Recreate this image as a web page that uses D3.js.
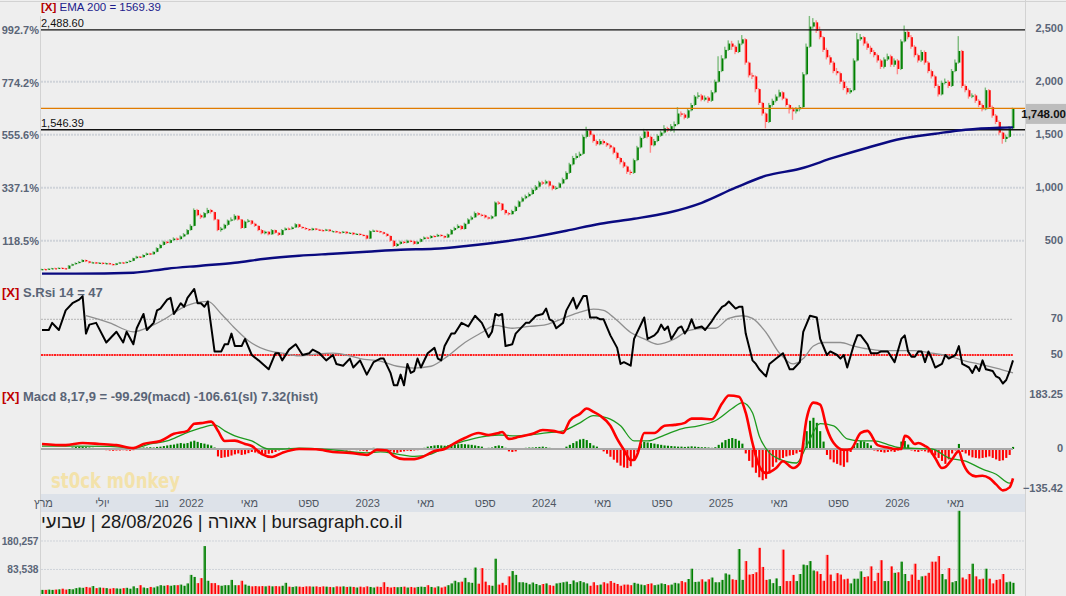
<!DOCTYPE html>
<html>
<head>
<meta charset="utf-8">
<script src="https://cdn.jsdelivr.net/npm/d3@7"></script>
<style>
html, body { margin: 0; padding: 0; background: #eeeeee; }
svg { display: block; font-family: "Liberation Sans", Arial, sans-serif; }
</style>
</head>
<body>
<div class="weeklyChart"></div>
<script>
// weekly bars, first one is the week of 26/02/2021, last one 28/08/2026
const firstWeek = '2021-02-26';

const opens = [
  226,232,228,236,240,238,244,240,236,265,
  278,290,300,318,305,292,296,286,292,282,
  288,280,272,286,295,290,300,310,335,350,
  345,365,380,372,395,430,460,490,480,505,
  520,515,540,560,600,640,790,740,720,760,
  790,770,700,600,615,650,690,700,735,700,
  620,680,690,660,640,600,570,585,560,600,
  575,555,600,615,610,625,655,630,620,610,
  600,615,605,600,595,605,590,590,580,575,
  585,570,575,560,565,555,550,520,590,595,
  590,580,565,545,500,450,470,490,480,500,
  495,470,490,515,530,525,545,540,555,545,
  530,560,600,620,640,610,660,700,720,760,
  745,740,720,710,730,860,850,790,760,750,
  780,820,870,900,920,940,980,1010,1050,1040,
  1060,1020,990,1000,1040,1080,1140,1220,1280,1300,
  1320,1480,1540,1500,1440,1410,1440,1420,1400,1380,
  1330,1280,1240,1200,1150,1140,1260,1380,1470,1530,
  1480,1400,1440,1490,1520,1560,1540,1580,1600,1700,
  1690,1660,1730,1780,1860,1870,1830,1850,1820,1900,
  2000,2100,2220,2300,2360,2330,2280,2360,2400,2180,
  2060,2050,1930,1800,1700,1620,1780,1820,1860,1900,
  1840,1780,1740,1720,1740,1760,2070,2330,2520,2560,
  2480,2420,2300,2230,2180,2100,2080,2000,1940,1900,
  1920,2200,2400,2420,2360,2320,2280,2250,2200,2140,
  2210,2240,2160,2200,2120,2380,2470,2420,2330,2250,
  2200,2280,2180,2100,2050,1960,1880,1990,2000,1960,
  2100,2180,2290,1960,1920,1860,1870,1820,1780,1740,
  1920,1760,1680,1620,1520,1460,1480,1560
];
const highs = [
  236,238,240,244,246,248,248,244,270,284,
  296,308,325,322,310,302,300,298,296,294,
  292,284,290,300,300,305,316,340,358,356,
  372,388,386,400,438,470,500,498,515,532,
  530,550,572,610,655,805,800,755,770,810,
  800,775,705,630,660,700,720,750,740,705,
  690,705,695,670,645,610,595,590,610,605,
  580,610,625,625,635,665,660,635,628,615,
  622,620,612,608,612,610,598,595,588,592,
  590,582,580,572,570,562,555,598,605,602,
  595,585,570,550,505,480,500,498,510,508,
  500,498,522,540,538,552,552,565,560,550,
  568,610,632,655,648,670,712,735,775,770,
  755,748,728,740,870,875,855,795,770,792,
  830,880,915,935,955,995,1025,1065,1065,1075,
  1068,1028,1015,1050,1095,1155,1235,1300,1325,1340,
  1500,1575,1555,1510,1455,1460,1455,1430,1415,1390,
  1340,1290,1255,1210,1170,1275,1395,1485,1555,1545,
  1490,1460,1505,1540,1590,1575,1600,1625,1760,1720,
  1705,1750,1800,1875,1900,1885,1870,1865,1920,2020,
  2240,2250,2330,2390,2385,2345,2390,2440,2410,2190,
  2085,2060,1940,1810,1710,1800,1840,1880,1925,1910,
  1850,1790,1760,1760,1780,2090,2360,2620,2600,2580,
  2520,2430,2320,2250,2195,2130,2095,2015,1960,1940,
  2220,2460,2450,2430,2380,2340,2300,2265,2215,2230,
  2265,2255,2220,2215,2400,2530,2490,2440,2345,2265,
  2300,2295,2195,2115,2065,1975,2010,2030,2015,2120,
  2210,2430,2300,1975,1935,1890,1885,1835,1795,1945,
  1930,1775,1695,1635,1530,1500,1580,1755
];
const lows = [
  222,224,226,232,234,235,236,230,234,260,
  274,285,296,298,286,286,280,282,276,278,
  274,266,268,282,284,286,296,306,330,338,
  340,360,364,368,390,425,455,470,475,498,
  505,510,532,555,595,635,730,705,712,750,
  755,690,590,585,605,640,680,690,690,610,
  615,670,650,630,590,560,560,550,555,565,
  545,550,595,600,605,620,620,612,602,592,
  595,598,592,588,590,584,582,572,568,570,
  562,565,552,555,548,542,512,515,582,582,
  572,558,538,490,440,442,462,470,475,485,
  462,465,485,510,518,520,532,535,538,522,
  525,555,592,612,600,605,655,692,715,735,
  728,710,700,702,725,838,780,745,738,745,
  772,815,862,890,910,932,970,1000,1025,1030,
  1008,975,980,995,1032,1072,1130,1210,1265,1285,
  1310,1465,1480,1425,1395,1400,1405,1385,1365,1315,
  1265,1220,1185,1130,1120,1130,1250,1370,1460,1465,
  1330,1390,1430,1480,1510,1525,1530,1520,1590,1670,
  1645,1650,1720,1770,1840,1815,1815,1800,1810,1890,
  1990,2090,2210,2290,2300,2260,2270,2345,2160,2040,
  2025,1900,1780,1680,1560,1610,1765,1805,1850,1825,
  1765,1700,1640,1700,1720,1750,2060,2320,2500,2460,
  2400,2280,2210,2160,2080,2060,1980,1920,1880,1885,
  1910,2190,2385,2340,2300,2260,2230,2180,2120,2125,
  2195,2140,2140,2070,2110,2370,2400,2310,2230,2180,
  2185,2160,2080,2030,1940,1860,1870,1975,1940,1950,
  2090,2170,1940,1900,1840,1845,1800,1760,1720,1730,
  1745,1660,1600,1500,1415,1430,1470,1550
];
const closes = [
  232,228,236,240,238,244,240,236,265,278,
  290,300,318,305,292,296,286,292,282,288,
  280,272,286,295,290,300,310,335,350,345,
  365,380,372,395,430,460,490,480,505,520,
  515,540,560,600,640,790,740,720,760,790,
  770,700,600,615,650,690,700,735,700,620,
  680,690,660,640,600,570,585,560,600,575,
  555,600,615,610,625,655,630,620,610,600,
  615,605,600,595,605,590,590,580,575,585,
  570,575,560,565,555,550,520,590,595,590,
  580,565,545,500,450,470,490,480,500,495,
  470,490,515,530,525,545,540,555,545,530,
  560,600,620,640,610,660,700,720,760,745,
  740,720,710,730,860,850,790,760,750,780,
  820,870,900,920,940,980,1010,1050,1040,1060,
  1020,990,1000,1040,1080,1140,1220,1280,1300,1320,
  1480,1540,1500,1440,1410,1440,1420,1400,1380,1330,
  1280,1240,1200,1150,1140,1260,1380,1470,1530,1480,
  1400,1440,1490,1520,1560,1540,1580,1600,1700,1690,
  1660,1730,1780,1860,1870,1830,1850,1820,1900,2000,
  2100,2220,2300,2360,2330,2280,2360,2400,2180,2060,
  2050,1930,1800,1700,1620,1780,1820,1860,1900,1840,
  1780,1740,1720,1740,1760,2070,2330,2520,2560,2480,
  2420,2300,2230,2180,2100,2080,2000,1940,1900,1920,
  2200,2400,2420,2360,2320,2280,2250,2200,2140,2210,
  2240,2160,2200,2120,2380,2470,2420,2330,2250,2200,
  2280,2180,2100,2050,1960,1880,1990,2000,1960,2100,
  2180,2290,1960,1920,1860,1870,1820,1780,1740,1920,
  1760,1680,1620,1520,1460,1480,1560,1748
];
// volume, thousands of units per week
const volumes = [
  14,14,15,14,15,16,18,15,17,16,
  20,22,21,24,22,27,20,22,21,20,
  18,20,19,18,20,21,18,26,20,30,
  22,20,24,22,26,30,28,30,28,30,
  30,32,28,36,65,58,37,54,163,45,
  37,37,30,28,30,30,48,30,30,45,
  32,28,26,27,26,27,26,28,26,27,
  26,28,38,25,24,26,25,24,26,26,
  25,26,24,26,25,24,23,26,25,26,
  24,25,24,22,25,23,26,24,22,25,
  24,40,24,22,24,23,24,25,22,24,
  22,24,25,24,30,24,22,26,22,25,
  30,36,45,40,42,55,40,38,90,35,
  88,42,30,28,120,32,38,30,60,78,
  65,40,40,38,33,39,34,30,34,36,
  30,28,36,38,40,42,34,46,40,44,
  40,36,28,40,30,32,40,36,44,38,
  34,28,32,32,30,38,35,32,30,34,
  36,30,32,36,34,30,32,38,36,44,
  40,51,86,41,42,50,42,50,56,40,
  40,48,70,66,50,48,153,48,112,66,
  68,74,157,92,48,50,37,53,27,151,
  44,44,65,44,68,100,98,112,80,77,
  68,45,133,66,44,71,66,50,52,36,
  52,52,77,58,60,94,44,72,115,44,
  44,94,72,74,110,68,44,66,103,48,
  60,62,72,110,110,129,68,50,88,40,
  44,283,56,50,68,103,60,50,52,86,
  52,36,48,50,68,40,42,38
];
// EMA 200, [week index, value]
const ema200 = [
  [0,189],[10,189],[27,198],[37,236],[47,264],[57,292],[66,330],[76,358],[86,377],[96,396],
  [106,415],[116,424],[126,453],[136,490],[146,538],[155,594],[165,660],[175,707],[185,764],
  [195,858],[205,1000],[214,1113],[224,1179],[234,1283],[244,1377],[254,1462],[264,1509],
  [273,1547],[283,1566],[287,1569]
];
// S.Rsi 14 and its average
const rsi = [
  [0,64],[2,64],[3,68],[4,66],[5,64],[7,75],[9,79],[11,81],[12,83],[13,62],[14,67],[16,68],
  [19,57],[22,63],[24,57],[25,63],[27,56],[28,65],[30,73],[31,64],[33,68],[34,75],[35,76],
  [37,81],[38,82],[39,73],[41,79],[42,77],[43,82],[45,87],[46,79],[47,79],[48,77],[49,80],
  [51,52],[53,52],[54,56],[55,56],[56,62],[57,55],[59,55],[60,59],[62,50],[64,47],[67,42],
  [69,51],[70,51],[71,47],[73,53],[75,56],[77,50],[79,51],[80,53],[82,51],[84,47],[86,50],
  [87,45],[89,44],[91,48],[92,43],[94,47],[96,39],[98,46],[100,48],[101,48],[103,40],[104,33],
  [105,33],[106,39],[107,33],[108,45],[109,40],[110,41],[111,48],[112,43],[114,51],[116,54],
  [117,48],[118,47],[119,55],[121,62],[122,62],[124,68],[126,66],[128,72],[130,68],[132,60],
  [133,63],[134,73],[135,72],[136,73],[137,55],[139,56],[140,62],[143,68],[144,68],[146,72],
  [148,73],[149,76],[150,70],[151,69],[152,65],[154,68],[155,75],[157,82],[158,76],[160,83],
  [161,83],[162,71],[164,71],[165,70],[166,70],[168,61],[170,54],[171,45],[172,46],[174,44],
  [175,59],[178,71],[179,59],[181,61],[182,63],[183,67],[184,64],[185,66],[186,59],[188,65],
  [189,66],[190,62],[191,65],[192,70],[193,65],[195,66],[196,64],[198,69],[199,72],[201,77],
  [202,78],[203,80],[205,76],[206,77],[207,77],[208,62],[210,47],[211,45],[212,42],[214,38],
  [215,45],[217,48],[219,51],[221,42],[222,42],[224,46],[225,63],[227,72],[229,71],[230,59],
  [232,50],[233,52],[235,50],[236,48],[237,50],[238,43],[240,56],[241,61],[242,61],[244,56],
  [245,51],[247,51],[248,52],[249,52],[250,52],[252,46],[254,59],[255,61],[256,52],[257,49],
  [258,49],[259,52],[260,52],[261,46],[262,52],[263,48],[264,43],[266,45],[267,50],[268,48],
  [270,50],[271,55],[272,45],[273,44],[274,43],[275,40],[276,44],[277,41],[278,47],[279,42],
  [281,41],[282,38],[283,37],[284,34],[285,36],[286,41],[287,47]
];
const rsiAvg = [
  [13,72],[20,68],[27,63],[32,66],[37,71],[41,76],[45,79],[49,80],[53,73],[57,65],[61,58],
  [66,53],[71,51],[76,49.5],[81,50.5],[86,51],[91,49.5],[94,48],[100,46.6],[105,43.7],
  [110,42.7],[115,43.7],[120,49.5],[125,57],[130,62.6],[134,66.6],[139,65],[144,66],[149,67],
  [154,70.5],[159,74],[163,75.7],[166,75],[169,71],[174,62.6],[178,59],[182,56],[187,59],
  [191,63.7],[196,65],[199,65],[203,70.5],[207,72],[210,70.5],[214,62.6],[218,51],[222,45],
  [225,48],[228,55],[231,57],[236,57],[240,55],[244,53.4],[248,52.5],[253,52.5],[258,52.5],
  [263,51],[268,49.4],[273,46.6],[278,44.5],[282,42.6],[287,40]
];
// Macd 8,17,9
const macdLine = [
  [0,17],[7,13],[12,20],[17,17],[22,13],[27,3],[30,17],[35,27],[39,51],[43,61],[45,85],[47,87],
  [50,92],[52,61],[54,27],[57,28],[60,17],[62,10],[65,-17],[68,-27],[71,-13],[76,0],[81,-1],
  [86,-10],[91,-13],[96,-20],[99,-3],[102,-5],[104,-24],[107,-34],[110,-34],[113,-24],[116,-7],
  [119,0],[122,20],[125,37],[129,54],[132,47],[135,54],[136,57],[138,34],[141,41],[145,51],
  [148,64],[151,61],[154,54],[156,95],[159,118],[161,136],[163,125],[165,112],[168,78],[170,34],
  [172,-3],[174,-37],[175,-37],[176,-17],[178,54],[181,54],[184,78],[187,81],[190,88],[192,102],
  [195,102],[198,100],[201,153],[203,180],[206,176],[208,122],[210,20],[212,-58],[214,-81],
  [217,-64],[219,-41],[222,-64],[224,-47],[226,102],[228,156],[230,149],[232,68],[234,20],
  [237,-3],[239,-1],[242,54],[244,61],[247,13],[250,5],[252,0],[254,0],[255,44],[256,41],
  [258,17],[259,20],[261,10],[262,3],[264,-30],[266,-64],[267,-61],[269,-34],[271,-7],[272,-41],
  [274,-81],[276,-92],[278,-90],[280,-98],[282,-119],[284,-139],[286,-129],[287,-99]
];
const signalLine = [
  [0,10],[10,10],[20,9],[27,3],[32,17],[37,27],[42,51],[47,71],[51,81],[54,61],[57,44],[62,27],
  [67,0],[71,0],[76,3],[86,-3],[96,-13],[100,-10],[105,-17],[110,-25],[115,-17],[120,10],
  [125,27],[130,41],[135,47],[140,44],[144,47],[149,54],[154,61],[159,88],[163,112],[167,105],
  [171,78],[175,27],[179,27],[184,47],[189,68],[194,78],[199,95],[204,136],[207,156],[210,122],
  [212,44],[215,-13],[218,-34],[223,-47],[226,10],[230,85],[234,78],[238,34],[242,27],[246,27],
  [250,15],[253,5],[258,2],[263,0],[268,-30],[273,-41],[278,-68],[282,-85],[286,-115],[287,-107]
];
const macdHist = [
  -3,-3,-2,-3,-3,-2,-2,-3,3,5,
  7,8,8,6,5,4,3,2,-2,-4,
  -5,-6,-5,-5,-4,-5,-6,-4,2,4,
  5,5,6,5,7,8,10,12,14,15,
  18,20,18,20,25,28,24,20,18,15,
  12,5,-25,-30,-28,-26,-22,-18,-15,-20,
  -18,-14,-10,-12,-15,-20,-18,-16,-14,-10,
  -5,2,3,4,3,2,1,0,1,-1,
  1,0,-1,-2,-1,-2,-3,-4,-3,-4,
  -5,-4,-3,-4,-5,-6,-8,3,4,3,
  2,-2,-4,-8,-12,-13,-10,-8,-6,-7,
  -5,-4,-3,4,8,10,12,13,12,11,
  12,14,15,16,17,16,15,14,12,10,
  8,3,4,5,10,12,10,4,-8,-10,
  -8,-3,3,4,5,5,6,7,8,6,
  4,2,-2,-3,-2,8,14,20,26,32,
  34,30,20,12,8,3,-8,-16,-26,-36,
  -46,-56,-62,-64,-58,-40,-10,18,24,22,
  20,18,16,14,12,11,10,9,8,8,
  7,8,9,8,7,6,6,5,4,6,
  14,22,30,34,37,34,28,18,-15,-40,
  -62,-80,-95,-105,-100,-82,-60,-45,-38,-30,
  -25,-22,-20,-15,-10,20,60,95,105,88,
  60,25,-20,-35,-45,-50,-55,-60,-45,-10,
  10,20,27,25,20,12,-5,-8,-10,-12,
  -10,-8,-10,-5,25,27,15,-5,-8,-10,
  -6,-8,-12,-18,-22,-30,-40,-50,-35,-15,
  -5,17,-10,-15,-22,-28,-30,-32,-30,-28,
  -25,-30,-35,-40,-38,-30,-20,7
];

const priceTicks = [500, 1000, 1500, 2000, 2500];
const percentTicks = [992.7, 774.2, 555.6, 337.1, 118.5];
const levelLines = [2488.60, 1546.39];
const lastPrice = 1748.00;
const rsiTicks = [70, 50];
const macdTicks = [183.25, 0, -135.42];
const volumeTicks = [180.257, 83.538];
const volumeTickLabels = ['180,257', '83,538'];
const xTickDates = ['2021-03-01','2021-07-01','2021-11-01','2022-01-01','2022-05-01','2022-09-01',
  '2023-01-01','2023-05-01','2023-09-01','2024-01-01','2024-05-01','2024-09-01','2025-01-01',
  '2025-05-01','2025-09-01','2026-01-01','2026-05-01'];
const xTickLabels = ['מרץ','יולי','נוב','2022','מאי','ספט','2023','מאי','ספט','2024','מאי','ספט',
  '2025','מאי','ספט','2026','מאי'];

function weeklyChart() {
    const width = 1066, height = 596;
    const left = 40, right = 1025;
    const axisColor = '#5a6577';
    const green = '#008000', red = '#ff0000';
    const paleGreen = '#7dbb7d', paleRed = '#ff8c8c';

    const n = Math.min(opens.length, highs.length, lows.length, closes.length);
    const parse = d3.timeParse('%Y-%m-%d');
    const start = parse(firstWeek);
    const weeks = d3.range(n).map(i => d3.timeDay.offset(start, i * 7));
    const up = i => closes[i] >= opens[i];

    const svg = d3.select('.weeklyChart')
        .append('svg')
        .attr('width', width)
        .attr('height', height);

    svg.append('rect').attr('width', width).attr('height', height).attr('fill', '#eeeeee');

    // scales
    const x = d3.scaleTime()
        .domain([weeks[0], weeks[n - 1]])
        .range([42, 1013]);
    const xi = i => x(weeks[Math.min(i, n - 1)]);

    const yPrice = d3.scaleLinear().domain([500, 2500]).range([240.7, 28.7]);
    const yRsi = d3.scaleLinear().domain([50, 70]).range([355, 319.3]);
    const yMacd = d3.scaleLinear().domain([0, 183.25]).range([449, 394.5]);
    const yVol = d3.scaleLinear().domain([0, 180.257]).range([594, 541]);

    const defs = svg.append('defs');
    defs.append('clipPath').attr('id', 'priceClip')
        .append('rect').attr('x', left).attr('y', 12).attr('width', right - left).attr('height', 268);

    // frame
    const frame = svg.append('g').attr('stroke', '#d2d2d2').attr('stroke-width', 1);
    frame.append('line').attr('x1', 0).attr('x2', width).attr('y1', 1.5).attr('y2', 1.5);
    frame.append('line').attr('x1', left + 0.5).attr('x2', left + 0.5).attr('y1', 16).attr('y2', height);
    frame.append('line').attr('x1', right + 0.5).attr('x2', right + 0.5).attr('y1', 0).attr('y2', height);

    function dottedLine(g, y, x2, color, w, dash) {
        g.append('line')
            .attr('x1', left + 1).attr('x2', x2)
            .attr('y1', y).attr('y2', y)
            .attr('stroke', color)
            .attr('stroke-width', w)
            .attr('stroke-dasharray', dash);
    }

    // ---- price panel
    const grid = svg.append('g');
    priceTicks.slice(0, 4).forEach(p => dottedLine(grid, yPrice(p), right, '#cfd3d9', 2, '2,1'));

    const basePrice = levelLines[0] / (1 + percentTicks[0] / 100);

    svg.append('g')
        .selectAll('text')
        .data(percentTicks)
        .join('text')
        .attr('x', 39)
        .attr('y', d => yPrice(basePrice * (1 + d / 100)) + 4)
        .attr('text-anchor', 'end')
        .attr('font-size', 11)
        .attr('font-weight', 'bold')
        .attr('fill', axisColor)
        .text(d => d3.format('.1f')(d) + '%');

    svg.append('g')
        .selectAll('text')
        .data(priceTicks)
        .join('text')
        .attr('x', 1063)
        .attr('y', d => yPrice(d) + 3)
        .attr('text-anchor', 'end')
        .attr('font-size', 11)
        .attr('font-weight', 'bold')
        .attr('fill', axisColor)
        .text(d => d3.format(',')(d));

    const candles = svg.append('g').attr('clip-path', 'url(#priceClip)');

    candles.append('g')
        .selectAll('rect')
        .data(d3.range(n))
        .join('rect')
        .attr('x', i => xi(i) - 1.3)
        .attr('width', 1.4)
        .attr('y', i => yPrice(highs[i]))
        .attr('height', i => Math.max(1, yPrice(lows[i]) - yPrice(highs[i])))
        .attr('fill', i => up(i) ? paleGreen : paleRed);

    candles.append('g')
        .selectAll('rect')
        .data(d3.range(n))
        .join('rect')
        .attr('x', i => xi(i) - 0.3)
        .attr('width', 1.7)
        .attr('y', i => yPrice(Math.max(opens[i], closes[i])))
        .attr('height', i => Math.max(1.2, Math.abs(yPrice(opens[i]) - yPrice(closes[i]))))
        .attr('fill', i => up(i) ? green : red);

    // support / resistance and last price
    levelLines.forEach(v => {
        svg.append('line')
            .attr('x1', left + 1).attr('x2', right)
            .attr('y1', yPrice(v)).attr('y2', yPrice(v))
            .attr('stroke', '#111').attr('stroke-width', 1.4);
        svg.append('text')
            .attr('x', 41).attr('y', yPrice(v) - 2.5)
            .attr('font-size', 11).attr('fill', '#111')
            .text(d3.format(',.2f')(v));
    });
    svg.append('line')
        .attr('x1', left + 1).attr('x2', right)
        .attr('y1', yPrice(lastPrice)).attr('y2', yPrice(lastPrice))
        .attr('stroke', '#e07b00').attr('stroke-width', 1.3);

    svg.append('path')
        .datum(ema200)
        .attr('fill', 'none')
        .attr('stroke', '#0a0a80')
        .attr('stroke-width', 2.4)
        .attr('d', d3.line().curve(d3.curveMonotoneX).x(d => xi(d[0])).y(d => yPrice(d[1])));

    svg.append('rect')
        .attr('x', 1026).attr('y', yPrice(lastPrice) - 4.5)
        .attr('width', 40).attr('height', 20)
        .attr('fill', '#bdbdbd');
    svg.append('text')
        .attr('x', 1066).attr('y', yPrice(lastPrice) + 9.5)
        .attr('text-anchor', 'end')
        .attr('font-size', 11.5).attr('font-weight', 'bold').attr('fill', '#111')
        .text(d3.format(',.2f')(lastPrice));

    const emaTitle = svg.append('text').attr('x', 41).attr('y', 11).attr('font-size', 11.5);
    emaTitle.append('tspan').attr('fill', '#b40000').attr('font-weight', 'bold').text('[X]');
    emaTitle.append('tspan').attr('fill', '#1c1c8c').text(' EMA 200 = 1569.39');

    // ---- RSI panel
    dottedLine(svg, yRsi(70), 1013, '#b4b4b4', 1, '2,1');
    dottedLine(svg, yRsi(50), 1013, '#ff2020', 2.2, '2,0.6');

    svg.append('path').datum(rsiAvg)
        .attr('fill', 'none').attr('stroke', '#8f8f8f').attr('stroke-width', 1.3)
        .attr('d', d3.line().curve(d3.curveMonotoneX).x(d => xi(d[0])).y(d => yRsi(d[1])));
    svg.append('path').datum(rsi)
        .attr('fill', 'none').attr('stroke', '#000').attr('stroke-width', 2)
        .attr('stroke-linejoin', 'round')
        .attr('d', d3.line().x(d => xi(d[0])).y(d => yRsi(d[1])));

    svg.append('g')
        .selectAll('text')
        .data(rsiTicks)
        .join('text')
        .attr('x', 1063).attr('y', d => yRsi(d) + 3)
        .attr('text-anchor', 'end')
        .attr('font-size', 11).attr('font-weight', 'bold').attr('fill', axisColor)
        .text(d => d);

    const rsiTitle = svg.append('text').attr('x', 2).attr('y', 297).attr('font-size', 13).attr('font-weight', 'bold');
    rsiTitle.append('tspan').attr('fill', '#c00000').text('[X]');
    rsiTitle.append('tspan').attr('fill', axisColor).text(' S.Rsi 14 = 47');

    // ---- MACD panel
    svg.append('text')
        .attr('x', 51).attr('y', 488)
        .attr('font-family', '"DejaVu Sans", sans-serif')
        .attr('font-size', 21).attr('font-weight', 'bold')
        .attr('textLength', 129)
        .attr('lengthAdjust', 'spacingAndGlyphs')
        .attr('fill', '#f3e2aa')
        .text('st0ck m0nkey');

    svg.append('g')
        .selectAll('rect')
        .data(macdHist.slice(0, n))
        .join('rect')
        .attr('x', (d, i) => xi(i) - 1)
        .attr('width', 2.1)
        .attr('y', d => Math.min(yMacd(d), yMacd(0)))
        .attr('height', d => Math.max(0.8, Math.abs(yMacd(d) - yMacd(0))))
        .attr('fill', d => d >= 0 ? green : red);

    svg.append('line')
        .attr('x1', left + 1).attr('x2', 1013)
        .attr('y1', yMacd(0)).attr('y2', yMacd(0))
        .attr('stroke', '#a9a9a9').attr('stroke-width', 2);

    svg.append('path').datum(signalLine)
        .attr('fill', 'none').attr('stroke', '#1f9a1f').attr('stroke-width', 1.3)
        .attr('d', d3.line().curve(d3.curveMonotoneX).x(d => xi(d[0])).y(d => yMacd(d[1])));
    svg.append('path').datum(macdLine)
        .attr('fill', 'none').attr('stroke', '#ff0000').attr('stroke-width', 2.6)
        .attr('stroke-linejoin', 'round')
        .attr('d', d3.line().curve(d3.curveMonotoneX).x(d => xi(d[0])).y(d => yMacd(d[1])));

    svg.append('g')
        .selectAll('text')
        .data(macdTicks)
        .join('text')
        .attr('x', 1063).attr('y', d => yMacd(d) + 3)
        .attr('text-anchor', 'end')
        .attr('font-size', 11).attr('font-weight', 'bold').attr('fill', axisColor)
        .text(d => d3.format('.2~f')(d));

    const macdTitle = svg.append('text').attr('x', 2).attr('y', 401).attr('font-size', 13).attr('font-weight', 'bold');
    macdTitle.append('tspan').attr('fill', '#c00000').text('[X]');
    macdTitle.append('tspan').attr('fill', axisColor).text(' Macd 8,17,9 = -99.29(macd) -106.61(sl) 7.32(hist)');

    // ---- time axis band
    svg.append('rect')
        .attr('x', left + 1).attr('y', 494)
        .attr('width', right - left - 1).attr('height', 18)
        .attr('fill', '#dde2e9');

    svg.append('g')
        .selectAll('text')
        .data(xTickDates)
        .join('text')
        .attr('x', d => x(parse(d)))
        .attr('y', 507)
        .attr('text-anchor', 'middle')
        .attr('font-size', 11)
        .attr('fill', '#4f5763')
        .text((d, i) => xTickLabels[i]);

    svg.append('text')
        .attr('x', 41).attr('y', 528)
        .attr('font-size', 18.4)
        .attr('fill', '#1a1a1a')
        .text('שבועי\u200E | 28/08/2026 | \u200Eאאורה | bursagraph.co.il');

    // ---- volume panel
    volumeTicks.forEach(v => dottedLine(svg, yVol(v), right, '#cfd3d9', 1, '2,1'));

    svg.append('g')
        .selectAll('text')
        .data(volumeTicks)
        .join('text')
        .attr('x', 38.5).attr('y', d => yVol(d) + 4)
        .attr('text-anchor', 'end')
        .attr('font-size', 10.2).attr('font-weight', 'bold').attr('fill', axisColor)
        .text((d, i) => volumeTickLabels[i]);

    const vols = d3.range(Math.min(n, volumes.length));
    svg.append('g')
        .selectAll('rect')
        .data(vols)
        .join('rect')
        .attr('x', i => xi(i) - 1.3)
        .attr('width', 1.3)
        .attr('y', i => yVol(volumes[i]))
        .attr('height', i => yVol(0) - yVol(volumes[i]))
        .attr('fill', i => up(i) ? paleGreen : paleRed);
    svg.append('g')
        .selectAll('rect')
        .data(vols)
        .join('rect')
        .attr('x', i => xi(i) - 0.2)
        .attr('width', 1.7)
        .attr('y', i => yVol(volumes[i]))
        .attr('height', i => yVol(0) - yVol(volumes[i]))
        .attr('fill', i => up(i) ? green : red);
}

weeklyChart();
</script>
</body>
</html>
